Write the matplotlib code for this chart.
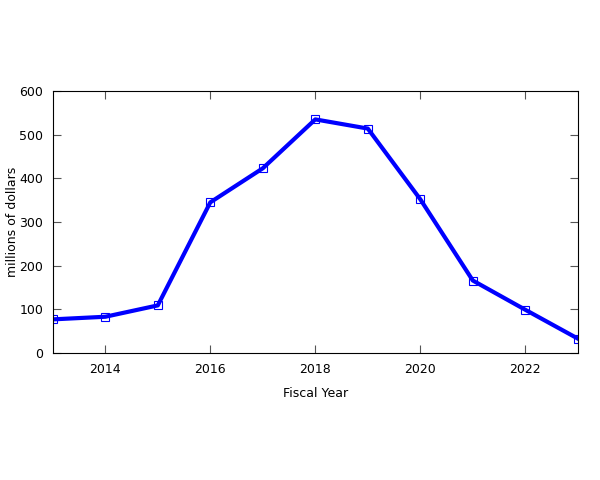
import matplotlib

matplotlib.use("Agg")
import matplotlib.pyplot as plt

# Spending per fiscal year, millions of dollars
years = [2013, 2014, 2015, 2016, 2017, 2018, 2019, 2020, 2021, 2022, 2023]
spending = [77, 83, 109, 345, 423, 535, 514, 352, 166, 99, 33]
y_ticks = [0, 100, 200, 300, 400, 500, 600]
x_ticks = [2014, 2016, 2018, 2020, 2022]

fig = plt.figure(figsize=(6, 4.8), dpi=100)
fig.patch.set_facecolor("white")
ax = fig.add_axes([0.088, 0.2646, 0.875, 0.5458])

ax.plot(
    years,
    spending,
    color="blue",
    linewidth=3,
    marker="s",
    markersize=6,
    markerfacecolor="none",
    markeredgecolor="blue",
    markeredgewidth=0.8,
)

ax.set_xlim(2013, 2023)
ax.set_ylim(0, 600)
ax.set_xticks(x_ticks)
ax.set_yticks(y_ticks)
ax.tick_params(direction="in", top=True, right=True, length=6, width=0.8,
               labelsize=9, pad=7, colors="#555555", labelcolor="black")
for side in ax.spines.values():
    side.set_linewidth(0.8)

ax.set_xlabel("Fiscal Year", fontsize=9, labelpad=8)
ax.set_ylabel("millions of dollars", fontsize=9, labelpad=0)

fig.savefig("out.png", dpi=100, facecolor="white")
